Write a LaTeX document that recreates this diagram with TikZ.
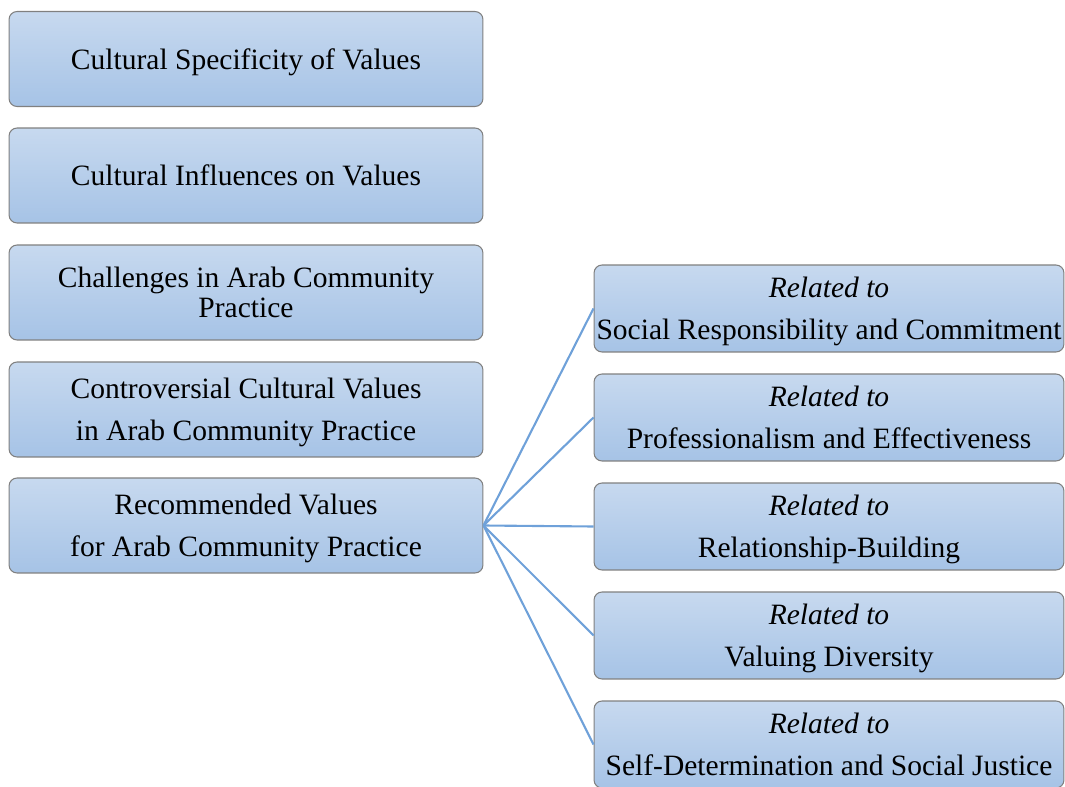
\documentclass[tikz,border=0pt]{standalone}
\usepackage{fontspec}
\setmainfont{Liberation Serif}
\begin{document}
\begin{tikzpicture}[x=0.02cm,y=-0.02cm,
  box/.style={draw=black!50, line width=0.6pt, rounded corners=0.16cm,
    top color=boxtop, bottom color=boxbot, align=center, inner sep=0pt,
    text depth=0pt, font=\fontsize{16.8}{17}\selectfont},
  leftbox/.style={box, minimum width=9.48cm, minimum height=1.9cm},
  rightbox/.style={box, minimum width=9.4cm, minimum height=1.74cm},
  link/.style={draw=linkblue, line width=1.2pt}]
\definecolor{boxtop}{HTML}{C7D9EF}
\definecolor{boxbot}{HTML}{A6C3E6}
\definecolor{linkblue}{HTML}{6FA1D9}
\useasboundingbox (0,0) rectangle (1065,787);
\clip (0,0) rectangle (1065,787);

% left column
\node[leftbox] (l1) at (246,59) {Cultural Specificity of Values};
\node[leftbox] (l2) at (246,175.5) {Cultural Influences on Values};
\node[leftbox] (l3) at (246,292.5) {Challenges in Arab Community\\Practice};
\node[leftbox] (l4) at (246,409.5) {Controversial Cultural Values\\[6.8pt]in Arab Community Practice};
\node[leftbox] (l5) at (246,525.5) {Recommended Values\\[6.8pt]for Arab Community Practice};

% right column
\node[rightbox] (r1) at (829,308.5) {\textit{Related to}\\[6.8pt]Social Responsibility and Commitment};
\node[rightbox] (r2) at (829,417.5) {\textit{Related to}\\[6.8pt]Professionalism and Effectiveness};
\node[rightbox] (r3) at (829,526.5) {\textit{Related to}\\[6.8pt]Relationship-Building};
\node[rightbox] (r4) at (829,635.5) {\textit{Related to}\\[6.8pt]Valuing Diversity};
\node[rightbox] (r5) at (829,744.5) {\textit{Related to}\\[6.8pt]Self-Determination and Social Justice};

% connectors
\foreach \r in {r1,r2,r3,r4,r5}
  \draw[link] (l5.east) -- (\r.west);
\end{tikzpicture}
\end{document}
